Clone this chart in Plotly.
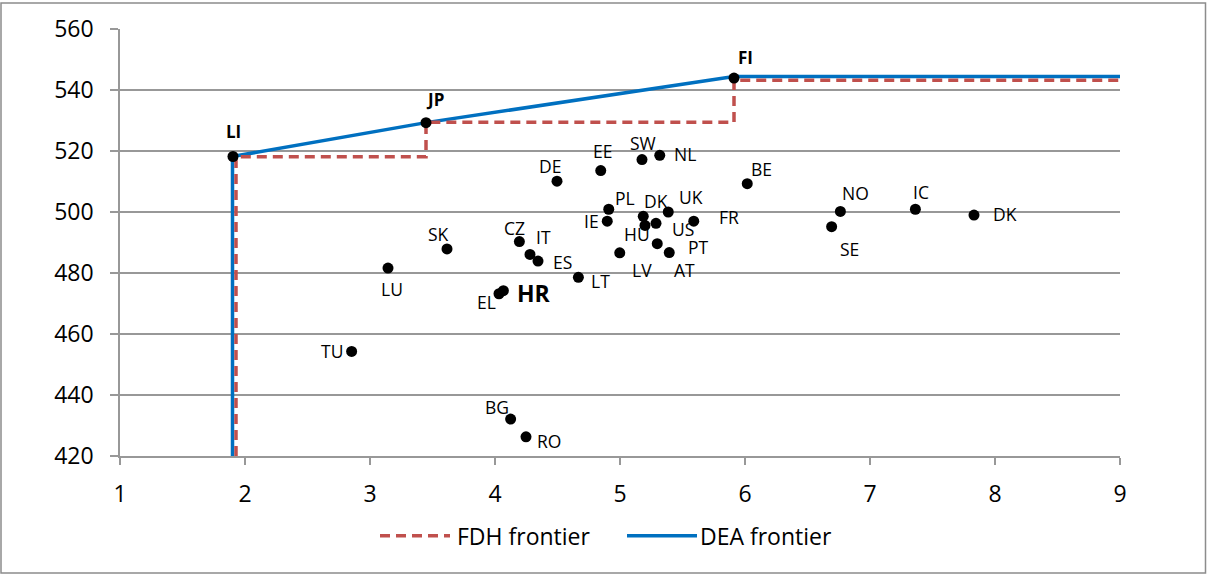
import plotly.graph_objects as go

# ---- data ----
countries = ["LI", "JP", "FI", "DE", "EE", "SW", "NL", "BE", "PL", "IE", "DK", "UK",
             "HU", "US", "FR", "PT", "AT", "LV", "LT", "SK", "CZ", "IT", "ES", "LU",
             "EL", "HR", "TU", "BG", "RO", "NO", "SE", "IC", "DK"]
x_vals = [1.904, 3.448, 5.912, 4.496, 4.846, 5.176, 5.318, 6.018, 4.910, 4.898, 5.186, 5.386,
          5.200, 5.288, 5.590, 5.394, 5.298, 4.998, 4.667, 3.616, 4.195, 4.280, 4.344, 3.144,
          4.032, 4.067, 2.853, 4.125, 4.248, 6.763, 6.693, 7.363, 7.832]
y_vals = [518.2, 529.3, 543.9, 510.1, 513.6, 517.2, 518.6, 509.3, 500.9, 497.0, 498.6, 500.0,
          495.6, 496.3, 497.0, 486.7, 489.6, 486.6, 478.6, 487.9, 490.3, 486.1, 483.9, 481.6,
          473.2, 474.2, 454.3, 432.1, 426.3, 500.2, 495.2, 500.9, 499.0]

fdh_x = [1.928, 1.928, 3.448, 3.448, 5.912, 5.912, 9.0]
fdh_y = [420.0, 518.1, 518.1, 529.4, 529.4, 543.2, 543.2]
dea_x = [1.900, 1.900, 3.448, 5.912, 9.0]
dea_y = [420.0, 518.2, 529.3, 544.4, 544.4]

series_names = ["FDH frontier", "DEA frontier"]
x_ticks = [1, 2, 3, 4, 5, 6, 7, 8, 9]
y_ticks = [420, 440, 460, 480, 500, 520, 540, 560]

# label offsets in pixels (dx, dy up) - styling only
label_offsets = {
    0: (0, 25), 1: (9, 23), 2: (11, 21), 3: (-7, 15), 4: (2, 20), 5: (1, 17), 6: (25, 1),
    7: (14, 15), 8: (16, 11), 9: (-16, 0), 10: (13, 15), 11: (23, 15), 12: (-8, -9),
    13: (27, -6), 14: (35, 4), 15: (29, 6), 16: (27, -26), 17: (22, -17), 18: (22, -4),
    19: (-9, 15), 20: (-5, 14), 21: (13, 17), 22: (24, -1), 23: (4, -21), 24: (-13, -8),
    25: (31, -2), 26: (-20, 0), 27: (-14, 12), 28: (23, -4), 29: (15, 18), 30: (18, -22),
    31: (6, 17), 32: (31, 1),
}
bold_labels = {"LI", "JP", "FI"}

FONT = "Open Sans"
RED = "#C0504D"
BLUE = "#0070C0"
DASH = "10px,6px"
fig = go.Figure()

fig.add_trace(go.Scatter(x=dea_x, y=dea_y, mode="lines", name=series_names[1],
                         line=dict(color=BLUE, width=3.5), showlegend=False))
fig.add_trace(go.Scatter(x=fdh_x, y=fdh_y, mode="lines", name=series_names[0],
                         line=dict(color=RED, width=3.5, dash=DASH), showlegend=False))
fig.add_trace(go.Scatter(x=x_vals, y=y_vals, mode="markers", showlegend=False,
                         marker=dict(color="black", size=11), hoverinfo="text",
                         text=countries))

annotations = []
for i, (c, xv, yv) in enumerate(zip(countries, x_vals, y_vals)):
    dx, dy = label_offsets[i]
    if c == "HR":
        txt, size = "<b>HR</b>", 23
    elif c in bold_labels and i < 3:
        txt, size = f"<b>{c}</b>", 17
    else:
        txt, size = c, 17.5
    annotations.append(dict(x=xv, y=yv, xref="x", yref="y", text=txt, showarrow=False,
                            xshift=dx, yshift=dy, font=dict(family=FONT, size=size, color="black")))

# manual legend (paper coords; plot area spans 1000 x 429 px)
def px_x(p):
    return (p - 120) / 1000.0

def px_y(p):
    return (456 - p) / 429.0

leg_y = px_y(536)
shapes = [
    dict(type="line", xref="paper", yref="paper", x0=px_x(380), x1=px_x(450), y0=leg_y, y1=leg_y,
         line=dict(color=RED, width=3.5, dash=DASH)),
    dict(type="line", xref="paper", yref="paper", x0=px_x(627), x1=px_x(697), y0=leg_y, y1=leg_y,
         line=dict(color=BLUE, width=3.5)),
    dict(type="rect", xref="paper", yref="paper", x0=px_x(1), x1=px_x(1205.5),
         y0=px_y(573.5), y1=px_y(1), line=dict(color="#8C8C8C", width=1.5), layer="below"),
]
annotations.append(dict(x=px_x(455), y=leg_y, xref="paper", yref="paper", text=series_names[0],
                        showarrow=False, xanchor="left", yanchor="middle",
                        font=dict(family=FONT, size=23, color="black")))
annotations.append(dict(x=px_x(698), y=leg_y, xref="paper", yref="paper", text=series_names[1],
                        showarrow=False, xanchor="left", yanchor="middle",
                        font=dict(family=FONT, size=23, color="black")))

fig.update_layout(
    width=1207, height=575,
    margin=dict(l=120, r=87, t=27, b=119),
    paper_bgcolor="white", plot_bgcolor="white",
    font=dict(family=FONT, size=19, color="black"),
    showlegend=False,
    xaxis=dict(range=[1, 9], tickvals=x_ticks, showgrid=False, zeroline=False,
               showline=True, linecolor="#989898", linewidth=1.5,
               ticks="outside", ticklen=7, tickcolor="#989898", tickwidth=1.5,
               ticklabelstandoff=10, tickfont=dict(family=FONT, size=23)),
    yaxis=dict(range=[420, 560], tickvals=y_ticks, showgrid=True, gridcolor="#989898",
               gridwidth=1.5, zeroline=False, showline=True, linecolor="#989898", linewidth=1.5,
               ticks="outside", ticklen=8, tickcolor="#989898", tickwidth=1.5,
               ticklabelstandoff=12, tickfont=dict(family=FONT, size=23)),
    annotations=annotations,
    shapes=shapes,
)

fig.write_html("out.html", config={"displayModeBar": False},
               post_script="document.body.style.margin='0';document.body.style.overflow='hidden';")
